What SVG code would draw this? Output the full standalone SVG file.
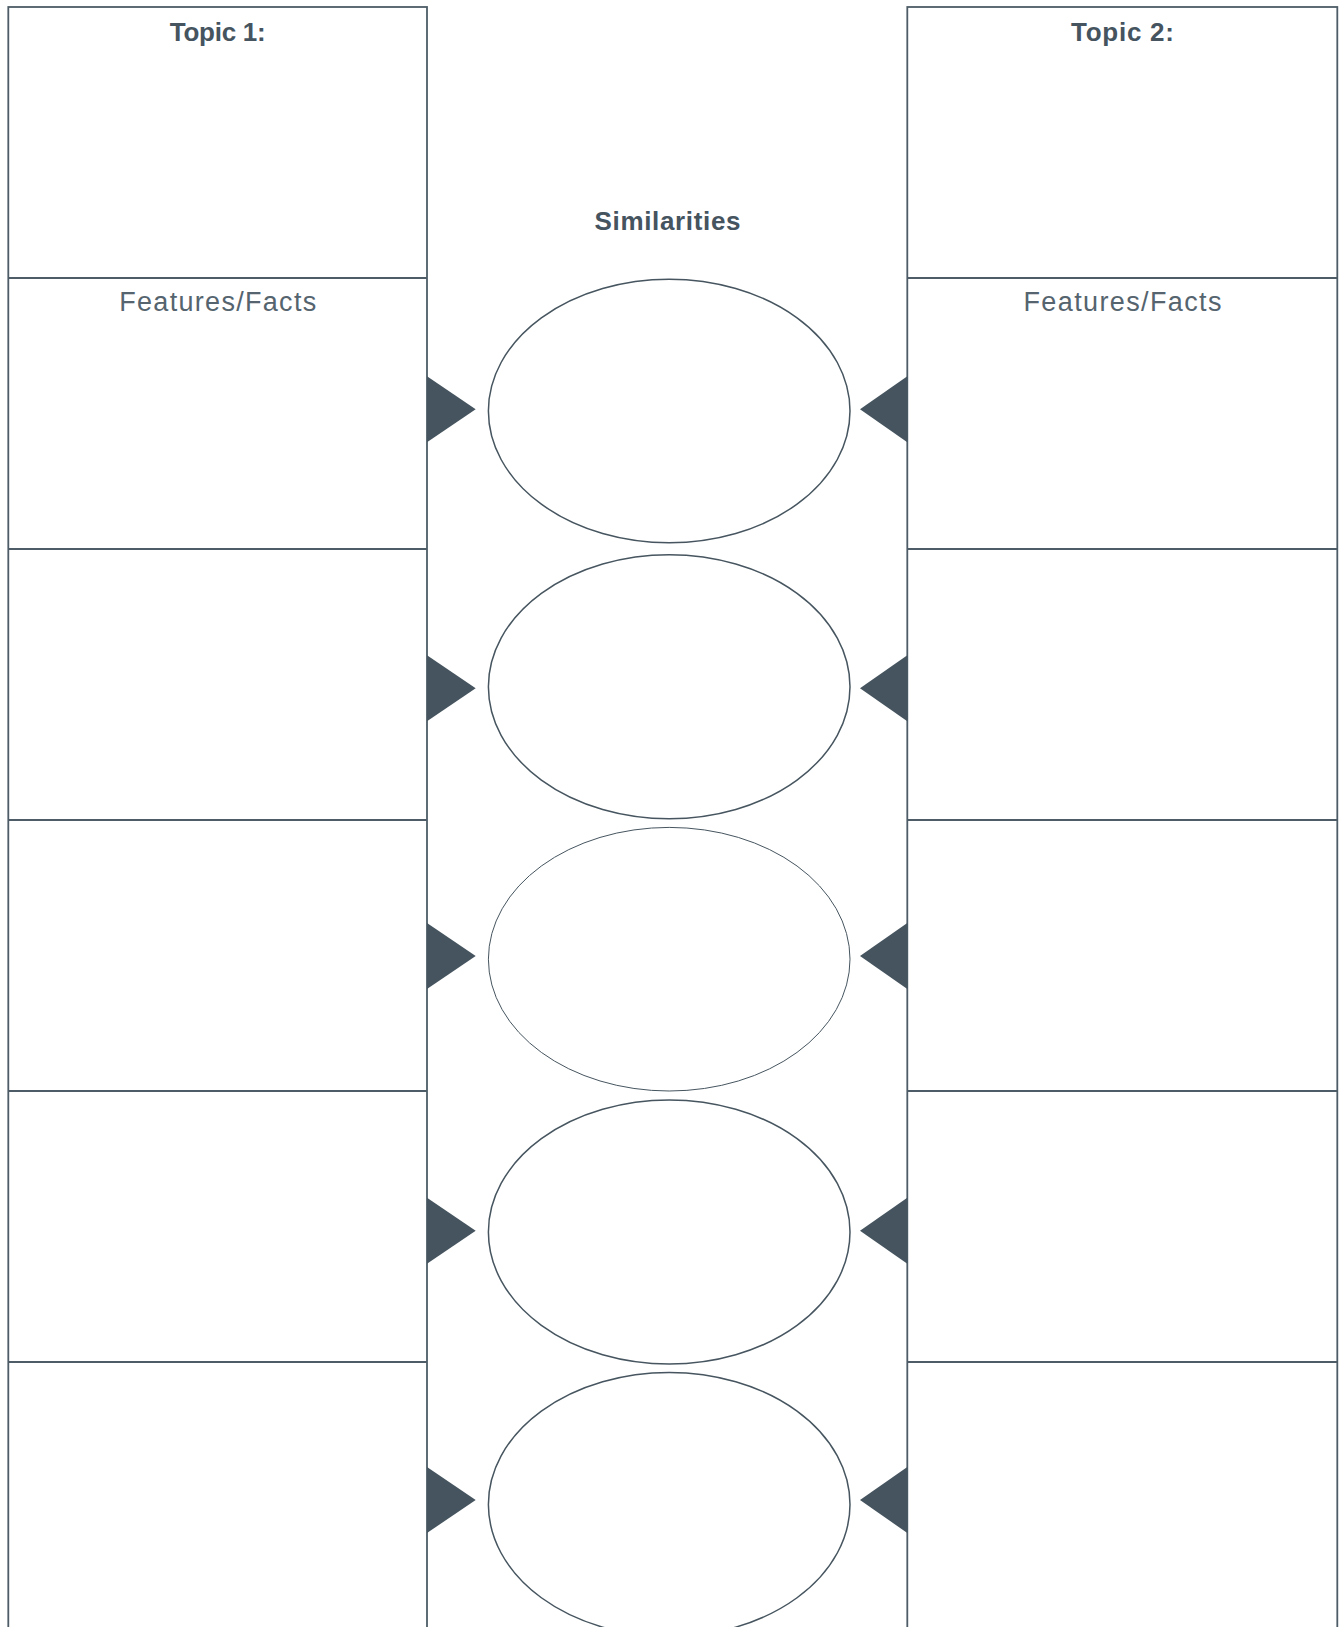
<svg xmlns="http://www.w3.org/2000/svg" width="1341" height="1627" viewBox="0 0 1341 1627">
<style>
.box{fill:#ffffff;stroke:#4d5c67;stroke-width:1.8}
.div{stroke:#4d5c67;stroke-width:1.8}
.ell{fill:#ffffff;stroke:#46555f;stroke-width:1.5}
.thin{stroke-width:1}
.tri{fill:#45545e}
.head{font-family:"Liberation Sans",Arial,sans-serif;font-weight:bold;font-size:26px;fill:#45545f;text-anchor:middle}
.sub{font-family:"Liberation Sans",Arial,sans-serif;font-size:27px;fill:#55646e;text-anchor:middle}
</style>
<rect width="1341" height="1627" fill="#ffffff"/>
<g id="topic1">
<rect class="box" x="8.3" y="7" width="418.7" height="1640"/>
<line class="div" x1="8.3" y1="278" x2="427" y2="278"/>
<line class="div" x1="8.3" y1="549" x2="427" y2="549"/>
<line class="div" x1="8.3" y1="820" x2="427" y2="820"/>
<line class="div" x1="8.3" y1="1091" x2="427" y2="1091"/>
<line class="div" x1="8.3" y1="1362" x2="427" y2="1362"/>
<text class="head" x="217.7" y="40.5" textLength="96" lengthAdjust="spacing">Topic 1:</text>
<text class="sub" x="217.7" y="311" textLength="197" lengthAdjust="spacing">Features/Facts</text>
</g>
<g id="topic2">
<rect class="box" x="907.3" y="7" width="430" height="1640"/>
<line class="div" x1="907.3" y1="278" x2="1337.3" y2="278"/>
<line class="div" x1="907.3" y1="549" x2="1337.3" y2="549"/>
<line class="div" x1="907.3" y1="820" x2="1337.3" y2="820"/>
<line class="div" x1="907.3" y1="1091" x2="1337.3" y2="1091"/>
<line class="div" x1="907.3" y1="1362" x2="1337.3" y2="1362"/>
<text class="head" x="1122.5" y="40.5" textLength="103" lengthAdjust="spacing">Topic 2:</text>
<text class="sub" x="1122.5" y="311" textLength="198" lengthAdjust="spacing">Features/Facts</text>
</g>
<g id="similarities">
<text class="head" x="667.5" y="230" textLength="146" lengthAdjust="spacing">Similarities</text>
<ellipse id="sim1" class="ell" cx="669.2" cy="411" rx="180.8" ry="131.8"/>
<ellipse id="sim2" class="ell" cx="669.2" cy="686.7" rx="180.8" ry="132"/>
<ellipse id="sim3" class="ell thin" cx="669.2" cy="959.2" rx="180.8" ry="131.8"/>
<ellipse id="sim4" class="ell" cx="669.2" cy="1232" rx="180.8" ry="132"/>
<ellipse id="sim5" class="ell" cx="669.2" cy="1504.4" rx="180.8" ry="132"/>
</g>
<g id="connectors">
<polygon class="tri" points="427,376.3 475.7,409.3 427,442.3"/>
<polygon class="tri" points="427,655.3 475.7,688.3 427,721.3"/>
<polygon class="tri" points="427,923 475.7,956 427,989"/>
<polygon class="tri" points="427,1197.7 475.7,1230.7 427,1263.7"/>
<polygon class="tri" points="427,1467 475.7,1500 427,1533"/>
<polygon class="tri" points="907.3,376.3 860,409.3 907.3,442.3"/>
<polygon class="tri" points="907.3,655.3 860,688.3 907.3,721.3"/>
<polygon class="tri" points="907.3,923 860,956 907.3,989"/>
<polygon class="tri" points="907.3,1197.7 860,1230.7 907.3,1263.7"/>
<polygon class="tri" points="907.3,1467 860,1500 907.3,1533"/>
</g>
</svg>
